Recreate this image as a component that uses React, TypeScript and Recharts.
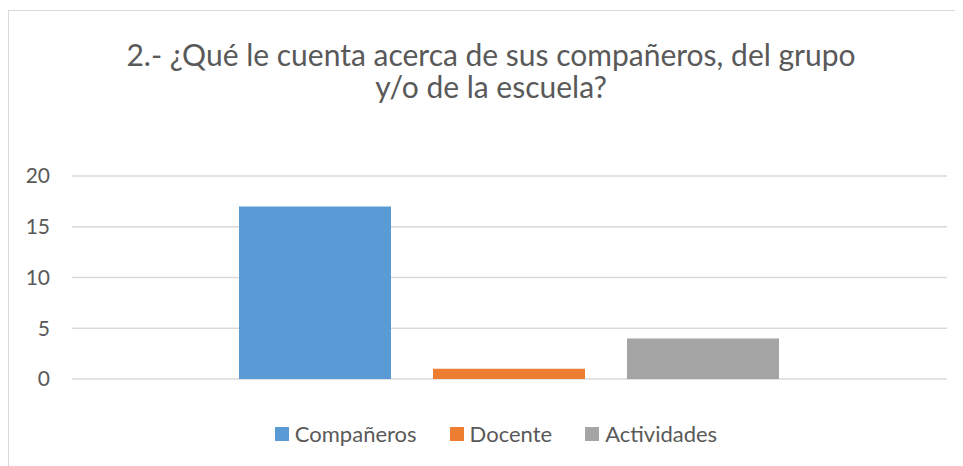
import { BarChart, Bar, XAxis, YAxis, CartesianGrid, Legend } from "recharts"

const TITLE_LINES = ["2.- ¿Qué le cuenta acerca de sus compañeros, del grupo", "y/o de la escuela?"]
const CATEGORIES = [""]
const SERIES_NAMES = ["Compañeros", "Docente", "Actividades"]
const SERIES_VALUES = [17, 1, 4]
const COLORS = ["#5B9BD5", "#ED7D31", "#A5A5A5"]
const Y_TICKS = [0, 5, 10, 15, 20]

const FONT = "Lato, Carlito, Calibri, sans-serif"
const TEXT = "#595959"

const data = CATEGORIES.map((name) => {
  const row: Record<string, string | number> = { name }
  SERIES_NAMES.forEach((s, i) => {
    row[s] = SERIES_VALUES[i]
  })
  return row
})

function LegendContent({ payload }: any) {
  // keep the series order, not the alphabetical one
  const items = SERIES_NAMES.map((s) => (payload || []).find((p: any) => p.value === s)).filter(Boolean)
  return (
    <div style={{ display: "flex", justifyContent: "center", alignItems: "center", paddingLeft: 21 }}>
      {items.map((p: any, i: number) => (
        <div
          key={p.value}
          style={{ display: "flex", alignItems: "center", marginRight: i < items.length - 1 ? 33 : 0 }}
        >
          <span style={{ width: 14, height: 14, background: p.color, display: "inline-block", marginRight: 6 }} />
          <span style={{ fontFamily: FONT, fontSize: 22, color: TEXT, lineHeight: "26px" }}>{p.value}</span>
        </div>
      ))}
    </div>
  )
}

export default function App() {
  return (
    <div style={{ position: "relative", width: 955, height: 458, overflow: "hidden", background: "#fff" }}>
      <div
        style={{
          position: "absolute",
          left: 0,
          top: 2,
          width: 980,
          height: 480,
          borderLeft: "1.5px solid #d9d9d9",
          borderTop: "1.5px solid #d9d9d9",
          boxSizing: "border-box",
        }}
      />
      <div
        style={{
          position: "absolute",
          left: 0,
          top: 30,
          width: 966,
          textAlign: "center",
          fontFamily: FONT,
          fontSize: 30,
          lineHeight: "32px",
          color: TEXT,
        }}
      >
        {TITLE_LINES.map((t) => (
          <div key={t}>{t}</div>
        ))}
      </div>
      <div style={{ position: "absolute", left: 0, top: 0 }}>
        <BarChart
          width={955}
          height={458}
          data={data}
          margin={{ top: 168, right: 16, bottom: 87, left: 0 }}
          barCategoryGap={167}
          barGap={42}
        >
          <CartesianGrid vertical={false} stroke="#d9d9d9" strokeWidth={1.5} />
          <XAxis dataKey="name" hide />
          <YAxis
            width={64}
            domain={[0, 20]}
            ticks={Y_TICKS}
            axisLine={false}
            tickLine={false}
            tickSize={6}
            tickMargin={16}
            tick={{ fill: TEXT, fontFamily: FONT, fontSize: 21 }}
          />
          <Legend
            verticalAlign="middle"
            align="center"
            layout="horizontal"
            content={<LegendContent />}
            wrapperStyle={{ top: 413, left: 0, width: 955 }}
          />
          {SERIES_NAMES.map((s, i) => (
            <Bar key={s} dataKey={s} fill={COLORS[i]} isAnimationActive={false} />
          ))}
        </BarChart>
      </div>
    </div>
  )
}
